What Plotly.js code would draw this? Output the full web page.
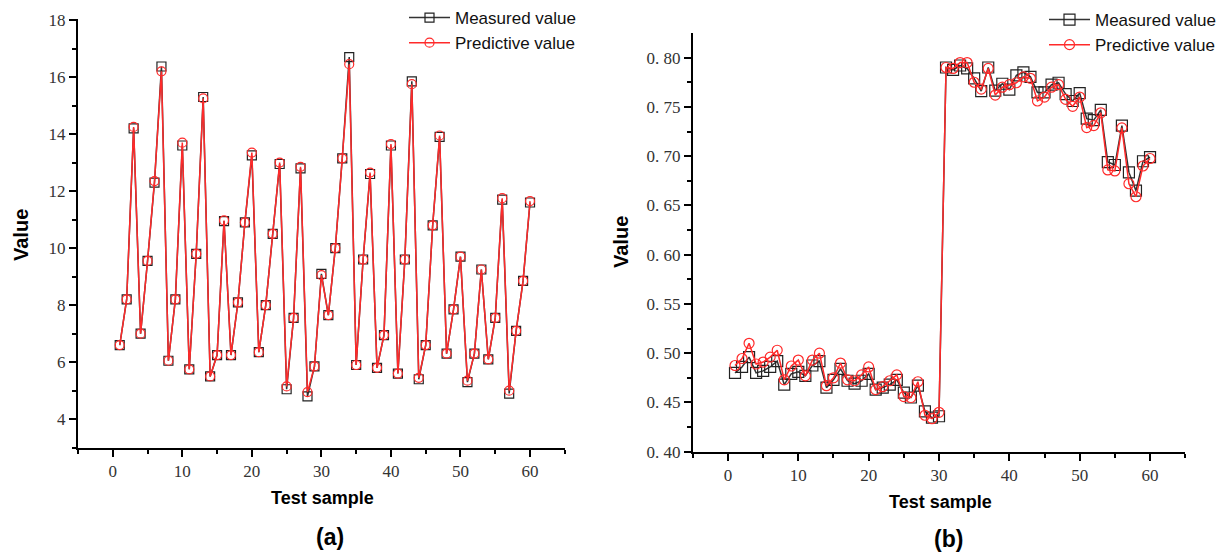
<!DOCTYPE html>
<html><head><meta charset="utf-8">
<script src="https://cdn.plot.ly/plotly-3.0.1.min.js"></script>
<style>html,body{margin:0;padding:0;background:#fff}#chart{width:1221px;height:552px}</style>
</head><body><div id="chart"></div>
<script>
const samples = [1,2,3,4,5,6,7,8,9,10,11,12,13,14,15,16,17,18,19,20,21,22,23,24,25,26,27,28,29,30,
  31,32,33,34,35,36,37,38,39,40,41,42,43,44,45,46,47,48,49,50,51,52,53,54,55,56,57,58,59,60];

const measuredA = [6.6,8.2,14.2,7.0,9.55,12.3,16.37,6.05,8.2,13.6,5.75,9.8,15.3,5.5,6.25,10.95,6.25,8.1,10.9,13.25,
  6.35,8.0,10.5,12.95,5.05,7.55,12.8,4.8,5.85,9.1,7.65,10.0,13.15,16.7,5.9,9.6,12.6,5.8,6.95,13.6,
  5.6,9.6,15.85,5.4,6.6,10.8,13.9,6.3,7.85,9.7,5.3,6.3,9.25,6.1,7.55,11.7,4.9,7.1,8.85,11.6];
const predictedA = [6.6,8.2,14.25,7.0,9.55,12.35,16.2,6.05,8.2,13.7,5.75,9.8,15.25,5.5,6.25,10.97,6.25,8.1,10.9,13.35,
  6.35,8.0,10.5,13.0,5.15,7.55,12.85,4.95,5.85,9.05,7.65,10.0,13.15,16.45,5.9,9.6,12.65,5.8,6.95,13.65,
  5.6,9.6,15.75,5.45,6.6,10.8,13.95,6.3,7.85,9.7,5.35,6.3,9.25,6.1,7.55,11.75,5.0,7.1,8.85,11.65];

const measuredB = [0.480,0.486,0.496,0.480,0.482,0.486,0.492,0.468,0.479,0.481,0.477,0.4875,0.492,0.465,0.473,0.484,0.472,0.469,0.472,0.479,
  0.463,0.465,0.468,0.473,0.460,0.455,0.467,0.441,0.4345,0.436,0.790,0.7875,0.792,0.789,0.779,0.766,0.790,0.7665,0.7735,0.7675,
  0.782,0.785,0.7805,0.7647,0.7647,0.7725,0.7745,0.763,0.756,0.764,0.738,0.7365,0.747,0.694,0.691,0.731,0.6835,0.665,0.6948,0.699];
const predictedB = [0.4875,0.4946,0.510,0.489,0.491,0.496,0.503,0.473,0.487,0.493,0.477,0.493,0.500,0.467,0.475,0.490,0.473,0.472,0.478,0.486,
  0.463,0.466,0.472,0.478,0.456,0.455,0.471,0.437,0.4335,0.440,0.790,0.789,0.795,0.795,0.775,0.768,0.789,0.762,0.770,0.7725,
  0.7745,0.7805,0.779,0.756,0.760,0.770,0.7725,0.7576,0.7506,0.760,0.729,0.731,0.744,0.686,0.685,0.7287,0.672,0.6588,0.690,0.6976];

const yTickValsB = [0.40,0.45,0.50,0.55,0.60,0.65,0.70,0.75,0.80];
const yTickTextB = ['0. 40','0. 45','0. 50','0. 55','0. 60','0. 65','0. 70','0. 75','0. 80'];

const seriesNames = ['Measured value','Predictive value'];

const W = 1221, H = 552;
const px = v => v / W;
const py = v => (H - v) / H;

const tickFont = {family:'Liberation Serif, Times New Roman, serif', size:17, color:'#333'};
const titleFont = {family:'Liberation Sans, Arial, sans-serif', size:18, color:'#000'};

function xAxis(domain, anchor){
  return {domain:domain, anchor:anchor, range:[-5,65], tick0:0, dtick:10,
    showline:true, linecolor:'#000', linewidth:2, mirror:false,
    ticks:'outside', ticklen:7, tickwidth:2, tickcolor:'#000',
    minor:{dtick:5, tick0:0, ticks:'outside', ticklen:4, tickwidth:2, tickcolor:'#000', showgrid:false},
    showgrid:false, zeroline:false, tickfont:tickFont, fixedrange:true, automargin:false};
}
function yAxis(domain, anchor, range, extra){
  return Object.assign({domain:domain, anchor:anchor, range:range,
    showline:true, linecolor:'#000', linewidth:2,
    ticks:'outside', ticklen:7, tickwidth:2, tickcolor:'#000',
    showgrid:false, zeroline:false, tickfont:tickFont, fixedrange:true, automargin:false}, extra);
}

const measStyle = {color:'#333', width:1.5};
const predStyle = {color:'#ff2a2a', width:1.5};

const traces = [
  {x:samples, y:measuredA, name:seriesNames[0], xaxis:'x', yaxis:'y', legend:'legend', mode:'lines+markers',
   line:measStyle, marker:{symbol:'square-open', size:9, color:'#222', line:{width:1.2}}},
  {x:samples, y:predictedA, name:seriesNames[1], xaxis:'x', yaxis:'y', legend:'legend', mode:'lines+markers',
   line:predStyle, marker:{symbol:'circle-open', size:9, color:'#ff2a2a', line:{width:1.2}}},
  {x:samples, y:measuredB, name:seriesNames[0], xaxis:'x2', yaxis:'y2', legend:'legend2', mode:'lines+markers',
   line:measStyle, marker:{symbol:'square-open', size:11, color:'#222', line:{width:1.2}}},
  {x:samples, y:predictedB, name:seriesNames[1], xaxis:'x2', yaxis:'y2', legend:'legend2', mode:'lines+markers',
   line:predStyle, marker:{symbol:'circle-open', size:10, color:'#ff2a2a', line:{width:1.2}}}
];

const legendFont = {family:'Liberation Sans, Arial, sans-serif', size:17, color:'#111'};

function ann(text, x, y, size, angle){
  return {text:text, x:px(x), y:py(y), xref:'paper', yref:'paper', xanchor:'center', yanchor:'middle',
    showarrow:false, textangle:angle||0, font:{family:titleFont.family, size:size, color:'#000'}};
}

const layout = {
  width:W, height:H, margin:{l:0,r:0,t:0,b:0}, paper_bgcolor:'#fff', plot_bgcolor:'#fff',
  showlegend:true,
  xaxis: xAxis([px(78), px(564.8)], 'y'),
  yaxis: yAxis([py(447.7), py(18.6)], 'x', [3, 18.05], {tick0:0, dtick:2,
    minor:{dtick:1, tick0:0, ticks:'outside', ticklen:4, tickwidth:2, tickcolor:'#000', showgrid:false}}),
  xaxis2: xAxis([px(692.8), px(1185.2)], 'y2'),
  yaxis2: yAxis([py(451.7), py(33)], 'x2', [0.40, 0.825], {tickmode:'array', tickvals:yTickValsB, ticktext:yTickTextB,
    minor:{tickmode:'array', tickvals:[0.425,0.475,0.525,0.575,0.625,0.675,0.725,0.775], ticks:'outside', ticklen:4, tickwidth:2, tickcolor:'#000', showgrid:false}}),
  legend:{x:px(404), y:py(0), xanchor:'left', yanchor:'top', bgcolor:'rgba(0,0,0,0)', font:legendFont, itemwidth:41, tracegroupgap:0},
  legend2:{x:px(1044), y:py(2), xanchor:'left', yanchor:'top', bgcolor:'rgba(0,0,0,0)', font:legendFont, itemwidth:41, tracegroupgap:0},
  annotations:[
    ann('<b>Value</b>', 21, 235, 20, -90),
    ann('<b>Test sample</b>', 322, 498, 18),
    ann('<b>(a)</b>', 330, 537, 23),
    ann('<b>Value</b>', 621, 242, 20, -90),
    ann('<b>Test sample</b>', 940, 502, 18),
    ann('<b>(b)</b>', 948, 539, 23)
  ]
};

Plotly.newPlot('chart', traces, layout, {displayModeBar:false, staticPlot:true});
</script>
</body></html>
